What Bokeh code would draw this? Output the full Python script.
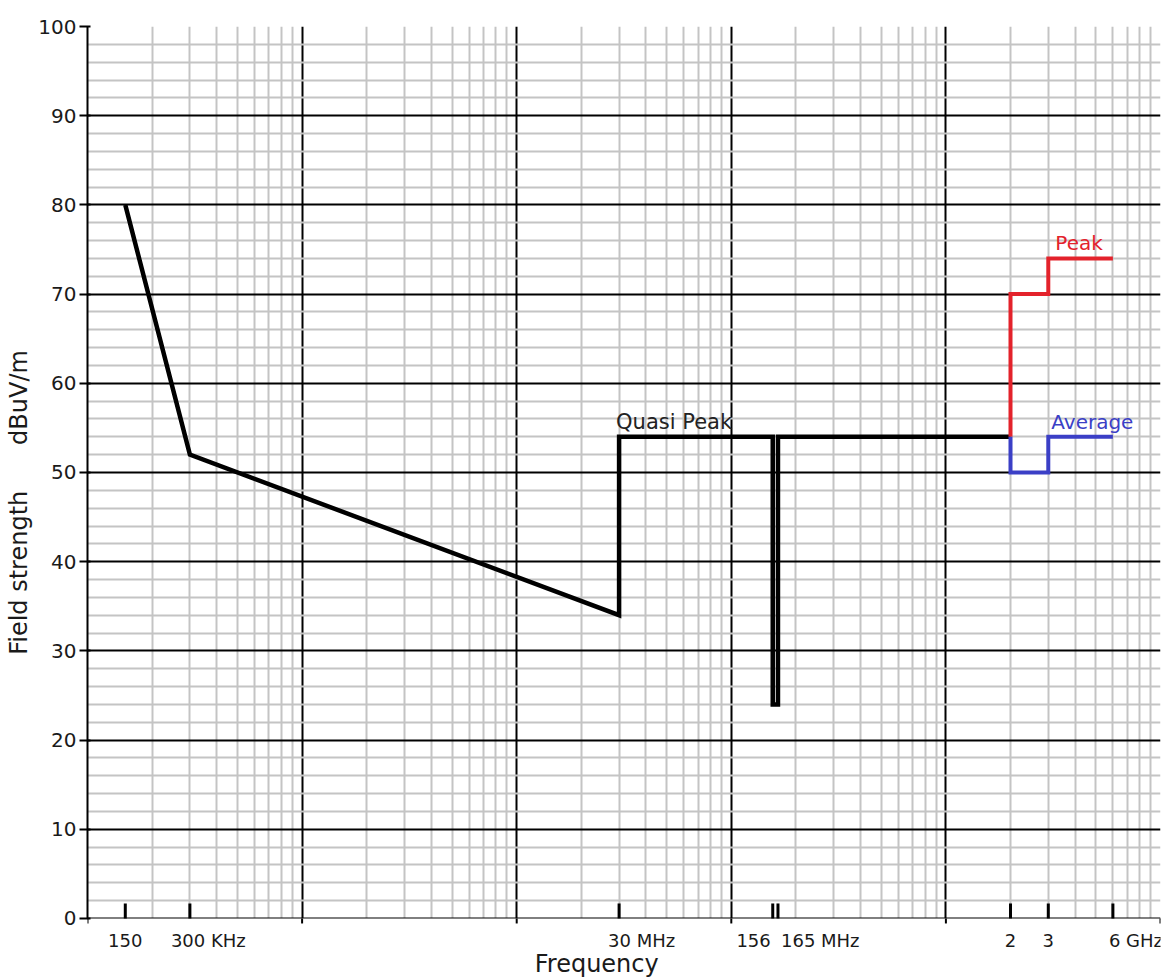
from bokeh.plotting import figure
from bokeh.models import FixedTicker, Grid, Label, Range1d, BoxAnnotation
from bokeh.embed import file_html
from bokeh.resources import INLINE

# ---- data ----
qp_freq = [150e3, 300e3, 30e6, 30e6, 156e6, 156e6, 165e6, 165e6, 2e9]
qp_level = [80, 52, 34, 54, 54, 24, 24, 54, 54]
peak_freq = [2e9, 2e9, 3e9, 3e9, 6e9]
peak_level = [54, 70, 70, 74, 74]
avg_freq = [2e9, 2e9, 3e9, 3e9, 6e9]
avg_level = [54, 50, 50, 54, 54]

tick_freqs = [150e3, 300e3, 30e6, 156e6, 165e6, 2e9, 3e9, 6e9]
tick_texts = ["150", "300 KHz", "30 MHz", "156", "165 MHz", "2", "3", "6 GHz"]
y_ticks = [0, 10, 20, 30, 40, 50, 60, 70, 80, 90, 100]
decades = [1e5, 1e6, 1e7, 1e8, 1e9, 1e10]

# ---- styling helpers (not data) ----
tick_align = ["center", "left", "left", "right", "left", "center", "center", "left"]
tick_xoff = [0, -19, -11, -2, 3, 0, 0, -4]
minor_x = [m * d for d in decades[:-1] for m in range(2, 10)]
minor_y = [v for v in range(2, 100, 2) if v % 10]

FONT = "DejaVu Sans"
GREY = "#c4c4c4"
TXT = "#1a1a1a"

p = figure(width=1168, height=978, x_axis_type="log", x_axis_location=None,
           x_range=Range1d(1e5, 1e10), y_range=Range1d(-6.73, 100),
           output_backend="svg", toolbar_location=None,
           min_border_left=87, min_border_right=8, min_border_top=26,
           min_border_bottom=0)
p.xgrid.visible = False
p.ygrid.visible = False
p.outline_line_color = None
p.background_fill_color = "white"
p.border_fill_color = "white"

# grids: grey verticals, black horizontals, black verticals, grey horizontals
p.add_layout(Grid(dimension=0, ticker=FixedTicker(ticks=minor_x),
                  grid_line_color=GREY, grid_line_width=2))
p.add_layout(Grid(dimension=1, ticker=FixedTicker(ticks=y_ticks),
                  grid_line_color="black", grid_line_width=2))
p.add_layout(Grid(dimension=0, ticker=FixedTicker(ticks=decades),
                  grid_line_color="black", grid_line_width=2))
p.add_layout(Grid(dimension=1, ticker=FixedTicker(ticks=minor_y),
                  grid_line_color=GREY, grid_line_width=2))
# blank strip under the zero line (tick-label area)
p.add_layout(BoxAnnotation(top=0, bottom=-50, fill_color="white", fill_alpha=1,
                           line_color=None, level="underlay"))

# y axis
ya = p.yaxis[0]
ya.ticker = FixedTicker(ticks=y_ticks)
ya.bounds = (0, 100)
ya.major_tick_in = 3
ya.major_tick_out = 8
ya.major_tick_line_width = 2
ya.minor_tick_line_color = None
ya.axis_line_width = 2
ya.major_label_text_font = FONT
ya.major_label_text_font_size = "20px"
ya.major_label_text_color = TXT
ya.major_label_standoff = 3
ya.axis_label = "Field strength\u00a0\u00a0\u00a0\u00a0\u00a0 dBuV/m"
ya.axis_label_text_font = FONT
ya.axis_label_text_font_size = "24px"
ya.axis_label_text_font_style = "normal"
ya.axis_label_text_color = TXT
ya.axis_label_standoff = 2

# x axis ticks (drawn on the zero line)
p.ray(x=tick_freqs, y=0, length=15, length_units="screen", angle=90,
      angle_units="deg", line_width=3, line_color="black")
p.ray(x=decades, y=0, length=5, length_units="screen", angle=-90,
      angle_units="deg", line_width=2, line_color="black")

# curves
p.line(qp_freq, qp_level, line_width=4.5, line_color="black", line_join="miter")
p.line(peak_freq, peak_level, line_width=4, line_color="#e3222b", line_join="miter")
p.line(avg_freq, avg_level, line_width=4, line_color="#3b3fc6", line_join="miter")

# x tick labels
for f, t, a, o in zip(tick_freqs, tick_texts, tick_align, tick_xoff):
    p.add_layout(Label(x=f, y=-2.5, text=t, text_align=a, x_offset=o,
                       text_baseline="alphabetic", text_font=FONT,
                       text_font_size="18px", text_color=TXT))
# x axis title
p.add_layout(Label(x=2.36e7, y=-6.62, text="Frequency", text_align="center",
                   text_baseline="bottom", text_font=FONT,
                   text_font_size="24px", text_color=TXT))

# annotations
p.add_layout(Label(x=30e6, y=55.7, text="Quasi Peak", x_offset=-3,
                   text_baseline="alphabetic", text_font=FONT,
                   text_font_size="21px", text_color="#222222"))
p.add_layout(Label(x=3e9, y=75.7, text="Peak", x_offset=7,
                   text_baseline="alphabetic", text_font=FONT,
                   text_font_size="20px", text_color="#e3222b"))
p.add_layout(Label(x=3e9, y=55.7, text="Average", x_offset=3,
                   text_baseline="alphabetic", text_font=FONT,
                   text_font_size="20px", text_color="#3b3fc6"))

open("out.html", "w").write(file_html(p, INLINE))
